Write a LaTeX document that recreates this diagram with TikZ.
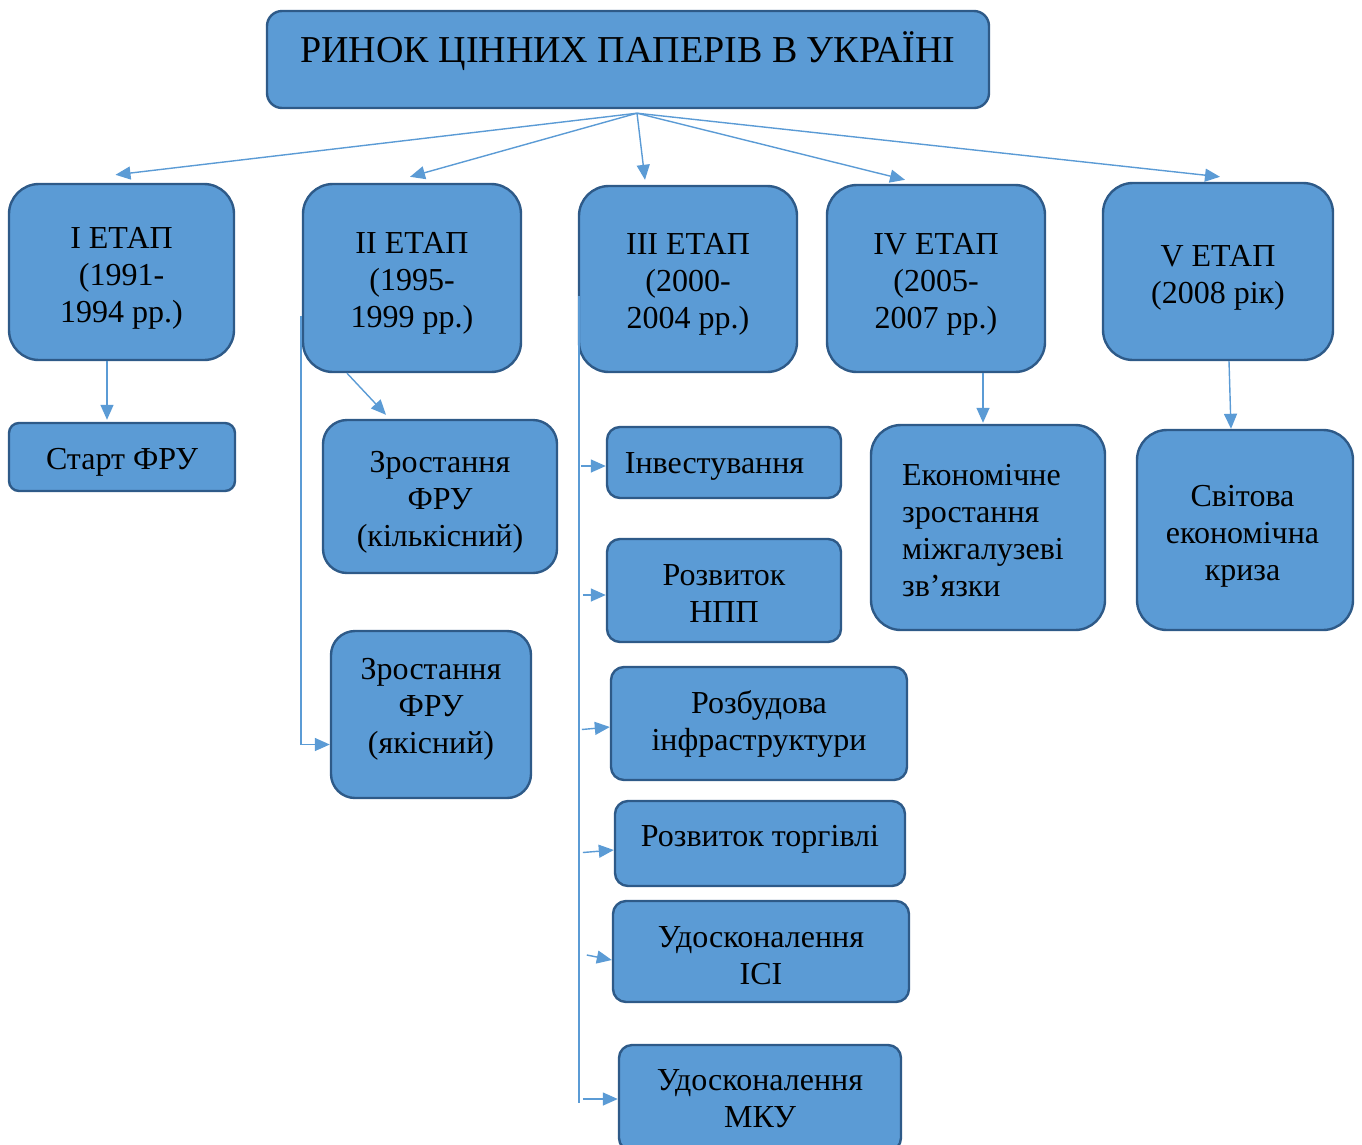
\documentclass[tikz,border=0pt]{standalone}
\usepackage{fontspec}
\setmainfont{Liberation Serif}
\usetikzlibrary{arrows.meta,calc}
\definecolor{boxfill}{HTML}{5B9BD5}
\definecolor{boxline}{HTML}{2E5A88}
\definecolor{arrcol}{HTML}{5B9BD5}
\tikzset{
  box/.style={draw=boxline, line width=2.4pt, fill=boxfill, rectangle, inner sep=0pt},
  bigr/.style={box, rounded corners=30pt},
  midr/.style={box, rounded corners=24pt},
  smallr/.style={box, rounded corners=13pt},
  txt/.style={align=center, inner sep=0pt, font=\fontsize{32pt}{37pt}\selectfont, text=black},
  arr/.style={draw=arrcol, line width=1.4pt, -{Triangle[length=15pt,width=13pt]}},
  trunk/.style={draw=arrcol, line width=1.4pt},
}
\begin{document}
\begin{tikzpicture}[x=1pt,y=1pt]
\useasboundingbox (0,0) rectangle (1362,-1144);
\clip (0,0) rectangle (1362,-1144);

% boxes
\node[smallr, rounded corners=15pt, minimum width=722pt, minimum height=97pt] (title) at (628,-59.5) {};
\node[bigr, minimum width=225pt, minimum height=176pt] (e1) at (121.5,-272) {};
\node[bigr, minimum width=218pt, minimum height=188pt] (e2) at (412,-278) {};
\node[bigr, minimum width=218pt, minimum height=186pt] (e3) at (688,-279) {};
\node[bigr, minimum width=218pt, minimum height=187pt] (e4) at (936,-278.5) {};
\node[bigr, minimum width=230pt, minimum height=177pt] (e5) at (1218,-271.5) {};
\node[smallr, rounded corners=10pt, minimum width=226pt, minimum height=68pt] (start) at (122,-457) {};
\node[midr, minimum width=234pt, minimum height=153pt] (kil) at (440,-496.5) {};
\node[midr, minimum width=200pt, minimum height=167pt] (yak) at (431,-714.5) {};
\node[smallr, minimum width=234pt, minimum height=71pt] (inv) at (724,-462.5) {};
\node[smallr, minimum width=234pt, minimum height=103pt] (npp) at (724,-590.5) {};
\node[smallr, minimum width=296pt, minimum height=113pt] (infra) at (759,-723.5) {};
\node[smallr, minimum width=290pt, minimum height=85pt] (torg) at (760,-843.5) {};
\node[smallr, minimum width=296pt, minimum height=101pt] (isi) at (761,-951.5) {};
\node[smallr, minimum width=282pt, minimum height=106pt] (mku) at (760,-1098) {};
\node[bigr, minimum width=234pt, minimum height=205pt] (econ) at (988,-527.5) {};
\node[bigr, minimum width=216pt, minimum height=200pt] (crisis) at (1245,-530) {};

% texts
\node[txt, font=\fontsize{38pt}{44pt}\selectfont] (titlet) at ($(title)+(0,8)$) {РИНОК ЦІННИХ ПАПЕРІВ В УКРАЇНІ};
\node[txt] (e1t) at ($(e1)+(0,-6)$) {I ЕТАП\\(1991-\\1994 рр.)};
\node[txt] (e2t) at ($(e2)+(0,-5)$) {II ЕТАП\\(1995-\\1999 рр.)};
\node[txt] (e3t) at ($(e3)+(0,-5.5)$) {III ЕТАП\\(2000-\\2004 рр.)};
\node[txt] (e4t) at ($(e4)+(0,-5.5)$) {IV ЕТАП\\(2005-\\2007 рр.)};
\node[txt] (e5t) at ($(e5)+(0,-6)$) {V ЕТАП\\(2008 рік)};
\node[txt] (startt) at ($(start)+(0,-5)$) {Старт ФРУ};
\node[txt] (kilt) at ($(kil)+(0,-5.5)$) {Зростання\\ФРУ\\(кількісний)};
\node[txt] (yakt) at ($(yak)+(0,5)$) {Зростання\\ФРУ\\(якісний)};
\node[txt] (invt) at ($(inv)+(-9.5,-4)$) {Інвестування};
\node[txt] (nppt) at ($(npp)+(0,-3)$) {Розвиток\\НПП};
\node[txt] (infrat) at ($(infra)+(0,0)$) {Розбудова\\інфраструктури};
\node[txt] (torgt) at ($(torg)+(0,4)$) {Розвиток торгівлі};
\node[txt] (isit) at ($(isi)+(0,-4)$) {Удосконалення\\ІСІ};
\node[txt] (mkut) at ($(mku)+(0,-1)$) {Удосконалення\\МКУ};
\node[txt, align=left] (econt) at ($(econ)+(-5,-3)$) {Економічне\\зростання\\міжгалузеві\\зв’язки};
\node[txt] (crisist) at ($(crisis)+(-2.5,-6.5)$) {Світова\\економічна\\криза};

% arrows from title
\coordinate (hub) at ($(title.south)+(9,-4)$);
\draw[arr] (hub) -- ([xshift=-6pt,yshift=8pt]e1.north);
\draw[arr] (hub) -- ([xshift=-2pt,yshift=6pt]e2.north);
\draw[arr] (hub) -- ([xshift=-43pt,yshift=5pt]e3.north);
\draw[arr] (hub) -- ([xshift=-31pt,yshift=4pt]e4.north);
\draw[arr] (hub) -- ([xshift=2pt,yshift=5pt]e5.north);

% downward arrows
\draw[arr] ([xshift=-14.5pt]e1.south) -- ([xshift=-15pt,yshift=2pt]start.north);
\draw[arr] ([xshift=-65pt]e2.south) -- ([xshift=-54pt,yshift=4pt]kil.north);
\draw[arr] ([xshift=47pt]e4.south) -- ([xshift=-5pt,yshift=1pt]econ.north);
\draw[arr] ([xshift=11pt]e5.south) -- ([xshift=-14pt]crisis.north);

% trunk from e2
\coordinate (t2top) at ($(e2.west)+(-1,-38)$);
\coordinate (t2bot) at ($(t2top |- yak.west)+(0,-30)$);
\draw[trunk] (t2top) -- (t2bot);
\draw[arr] (t2bot) -- ([yshift=-30pt]yak.west);

% trunk from e3
\coordinate (t3top) at ($(e3.west)+(1,-17)$);
\coordinate (t3bot) at ($(t3top |- mku.west)+(0,-5)$);
\draw[trunk] (t3top) -- (t3bot);
\draw[arr] ($(t3top |- inv.west)+(2,-3.5)$) -- ([yshift=-3.5pt]inv.west);
\draw[arr] ($(t3top |- npp.west)+(4,-4.5)$) -- ([yshift=-4.5pt]npp.west);
\draw[arr] ($(t3top |- infra.west)+(3,-6)$) -- ([yshift=-3.5pt]infra.west);
\draw[arr] ($(t3top |- torg.west)+(4,-9)$) -- ([yshift=-6.5pt]torg.west);
\draw[arr] ($(t3top |- isi.west)+(8,-3.5)$) -- ([yshift=-8.5pt]isi.west);
\draw[arr] ($(t3top |- mku.west)+(4,-1)$) -- ([yshift=-1pt]mku.west);
\end{tikzpicture}
\end{document}
